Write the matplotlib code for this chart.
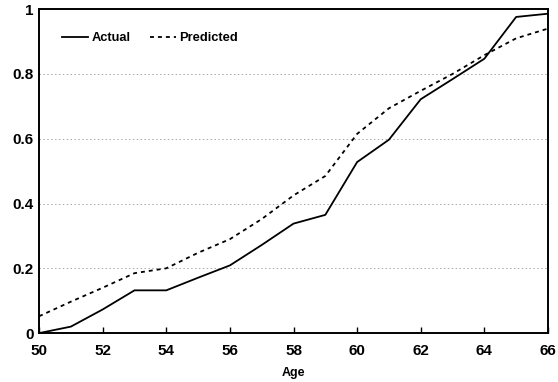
import matplotlib
matplotlib.use("Agg")
import matplotlib.pyplot as plt

ages = [50, 51, 52, 53, 54, 55, 56, 57, 58, 59, 60, 61, 62, 63, 64, 65, 66]
actual = [0.0, 0.02, 0.073, 0.132, 0.132, 0.171, 0.209, 0.272, 0.338, 0.365,
          0.528, 0.597, 0.722, 0.784, 0.847, 0.976, 0.986]
predicted = [0.052, 0.097, 0.14, 0.185, 0.2, 0.248, 0.29, 0.352, 0.425, 0.485,
             0.615, 0.694, 0.748, 0.800, 0.858, 0.910, 0.940]

x_ticks = [50, 52, 54, 56, 58, 60, 62, 64, 66]
y_ticks = [0, 0.2, 0.4, 0.6, 0.8, 1]
y_tick_labels = ["0", "0.2", "0.4", "0.6", "0.8", "1"]

plt.rcParams["font.family"] = ["Liberation Sans", "DejaVu Sans"]
plt.rcParams["font.weight"] = "bold"

fig = plt.figure(figsize=(5.58, 3.82), dpi=100)
ax = fig.add_axes([0.07, 0.128, 0.912, 0.848])

for yv in y_ticks[1:-1]:
    ax.axhline(yv, color="#a8a8a8", lw=0.7, linestyle=(0, (1.5, 2.5)), zorder=1)

ax.plot(ages, actual, color="black", lw=1.3, label="Actual", zorder=3)
ax.plot(ages, predicted, color="black", lw=1.3, linestyle=(0, (2.2, 2.2)),
        label="Predicted", zorder=3)

ax.set_xlim(50, 66)
ax.set_ylim(0, 1)
ax.set_xticks(x_ticks)
ax.set_yticks(y_ticks)
ax.set_yticklabels(y_tick_labels)
ax.tick_params(axis="x", direction="in", length=4, width=1, labelsize=11, pad=8)
ax.tick_params(axis="y", direction="in", length=0, labelsize=11, pad=4)
for lab in ax.get_xticklabels() + ax.get_yticklabels():
    lab.set_fontweight("bold")

for s in ax.spines.values():
    s.set_linewidth(1.4)
    s.set_color("black")

ax.set_xlabel("Age", fontsize=9, fontweight="bold", labelpad=6)

leg = ax.legend(loc="upper left", ncol=2, frameon=False, fontsize=9.3,
                handlelength=2.0, columnspacing=1.5, handletextpad=0.25,
                bbox_to_anchor=(0.023, 0.965))
for t in leg.get_texts():
    t.set_fontweight("bold")

fig.savefig("out.png", dpi=100)
